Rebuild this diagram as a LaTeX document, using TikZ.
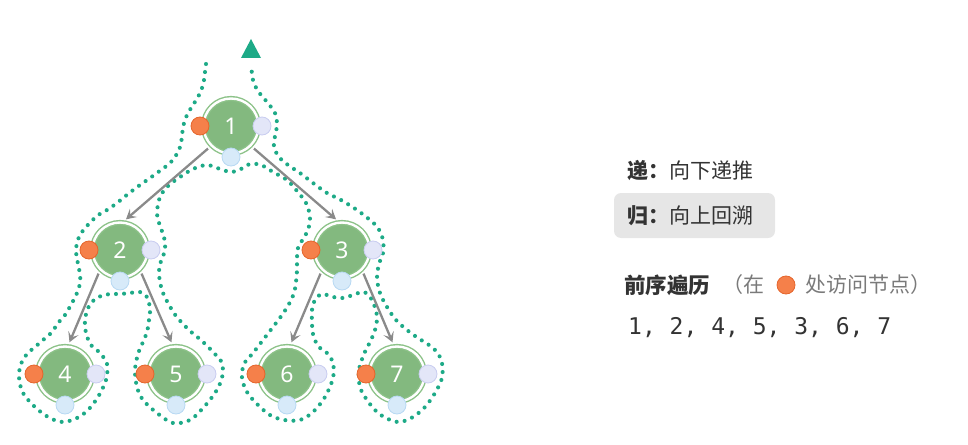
\documentclass[tikz,border=0pt]{standalone}
\usepackage{fontspec}
\newfontfamily\cjk{Noto Sans CJK SC}
\newfontfamily\numfont{Noto Sans}
\newfontfamily\monof{DejaVu Sans Mono}
\usetikzlibrary{arrows.meta}
\definecolor{nodegreen}{HTML}{83B97F}
\definecolor{ringgreen}{HTML}{8CC288}
\definecolor{preorange}{HTML}{F5804A}
\definecolor{preorangeb}{HTML}{E5652C}
\definecolor{inlav}{HTML}{E3E6F8}
\definecolor{inlavb}{HTML}{C9CDF0}
\definecolor{postblue}{HTML}{D7EAF9}
\definecolor{postblueb}{HTML}{B8D9F3}
\definecolor{tourteal}{HTML}{1DAA87}
\definecolor{edgegray}{HTML}{8A8A8A}
\definecolor{textdark}{HTML}{333333}
\definecolor{textgray}{HTML}{7A7A7A}
\definecolor{boxgray}{HTML}{E6E6E6}
\tikzset{
  treenode/.style={circle, minimum size=55pt, inner sep=0pt, fill=nodegreen,
    draw=ringgreen, double=white, double distance=2.4pt, line width=1.4pt,
    text=white, font=\numfont\fontsize{23}{23}\selectfont},
  smalldot/.style={circle, minimum size=18pt, inner sep=0pt, line width=0.8pt},
  predot/.style={smalldot, fill=preorange, draw=preorangeb},
  indot/.style={smalldot, fill=inlav, draw=inlavb},
  postdot/.style={smalldot, fill=postblue, draw=postblueb},
  treeedge/.style={draw=edgegray, line width=2.3pt, shorten <=4pt, shorten >=4pt,
    -{Stealth[length=10pt, width=11pt, inset=4.5pt]}},
  tour/.style={draw=tourteal, line width=4.1pt, line cap=round, dash pattern=on 0pt off 8.1pt},
  legendtext/.style={anchor=west, inner sep=0pt, text=textdark, font=\cjk\fontsize{21}{21}\selectfont},
}
\begin{document}
\begin{tikzpicture}[x=1pt, y=-1pt]
\useasboundingbox (0,0) rectangle (968,444);

% tour path
\draw[tour] plot[smooth, tension=0.55] coordinates {
(206,64) (205,72) (204,80) (202,88) (198,97) (193,105) (187,115) (183,127) (182,137)
(179,150) (171,162) (161,170) (150,178) (140,185) (128,194) (117,203) (107,210) (97,216)
(86,227) (79,237) (76,250) (78,264) (80,274) (80,283) (77,293) (72,303) (65,315) (58,323)
(52,332) (43,340) (35,347) (27,354) (21,364) (19,377) (23,393) (36,408) (50,418) (63,422)
(77,418) (88,410) (98,397) (106,380) (107,364) (100,353) (91,345) (86,333) (85,320)
(88,308) (94,300) (101,296) (110,294) (120,294) (130,293) (140,292) (147,297) (150,309)
(149,320) (147,332) (143,342) (138,354) (135,370) (137,387) (143,400) (157,413) (173,423)
(190,420) (203,408) (215,393) (222,378) (222,363) (213,352) (202,341) (189,330) (176,316)
(168,303) (163,293) (160,282) (159,271) (161,261) (165,250) (164,237) (160,226) (157,213)
(160,197) (168,186) (180,177) (193,169) (207,165) (220,169) (231,172) (241,169) (250,164)
(261,165) (273,172) (287,180) (297,191) (306,203) (310,217) (308,230) (303,239) (298,248)
(297,258) (297,270) (296,282) (294,293) (289,304) (282,315) (273,327) (263,340) (253,353)
(244,364) (242,378) (247,392) (257,404) (270,415) (284,420) (300,420) (313,412) (325,397)
(333,378) (333,363) (327,353) (318,346) (313,334) (312,322) (312,310) (315,300) (322,294)
(333,297) (343,298) (353,295) (364,292) (372,300) (377,316) (375,330) (370,342) (364,354)
(359,370) (360,387) (367,400) (377,412) (388,419) (400,422) (413,417) (425,407) (435,393)
(442,378) (442,363) (437,352) (429,345) (418,338) (407,330) (396,320) (387,307) (380,293)
(377,278) (379,264) (383,253) (383,240) (378,228) (370,220) (357,210) (341,200) (327,193)
(313,183) (300,173) (288,165) (279,157) (274,147) (275,136) (277,125) (275,113) (267,102)
(258,91) (253,80) (251,64)};
\fill[tourteal] (241,58) -- (251,39) -- (261,58) -- cycle;

% tree nodes
\node[treenode] (n1) at (231,126) {1};
\node[treenode] (n2) at (120,250) {2};
\node[treenode] (n3) at (342,250) {3};
\node[treenode] (n4) at (65,374) {4};
\node[treenode] (n5) at (176,374) {5};
\node[treenode] (n6) at (287,374) {6};
\node[treenode] (n7) at (397,374) {7};

% edges
\draw[treeedge] (n1.-135) -- (n2.84);
\draw[treeedge] (n1.-45) -- (n3.96);
\draw[treeedge] (n2.-135) -- (n4.84);
\draw[treeedge] (n2.-45) -- (n5.96);
\draw[treeedge] (n3.-135) -- (n6.84);
\draw[treeedge] (n3.-45) -- (n7.96);

% visit dots
\foreach \k in {1,...,7}{
  \node[predot] (p\k) at ([xshift=-31pt]n\k.center) {};
  \node[indot] (m\k) at ([xshift=31pt]n\k.center) {};
  \node[postdot] (q\k) at ([yshift=-31pt]n\k.center) {};
}

% legend
\node[legendtext] (l1) at (627,170) {{\bfseries 递：}向下递推};
\node[rectangle, rounded corners=7pt, fill=boxgray, minimum width=161pt, minimum height=45pt, inner sep=0pt] (box) at (694.5,215.5) {};
\node[legendtext] (l2) at (627,216) {{\bfseries 归：}向上回溯};
\node[legendtext, font=\cjk\bfseries\fontsize{21.5}{21.5}\selectfont] (l3) at (624,285) {前序遍历};
\node[legendtext, text=textgray] (l3a) at (722,285) {（在};
\node[predot] (l3dot) at (786,285) {};
\node[legendtext, text=textgray] (l3b) at (805,285) {处访问节点）};
\node[anchor=west, inner sep=0pt, text=textdark, font=\monof\fontsize{23}{23}\selectfont] (seq) at (628,328) {1, 2, 4, 5, 3, 6, 7};
\end{tikzpicture}
\end{document}
